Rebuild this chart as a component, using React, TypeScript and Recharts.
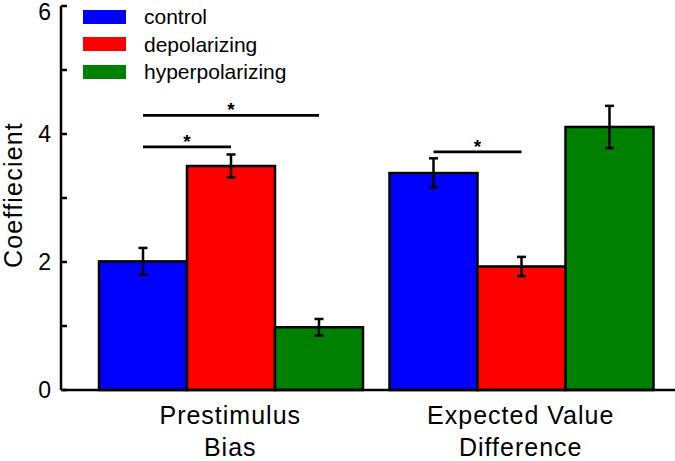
import React from 'react';
import { BarChart, Bar, XAxis, YAxis, ErrorBar, Legend } from 'recharts';

// values
const categories = ['Prestimulus\nBias', 'Expected Value\nDifference'];
const controlValues = [2.01, 3.39];
const controlErrors = [0.21, 0.23];
const depolarizingValues = [3.5, 1.93];
const depolarizingErrors = [0.18, 0.15];
const hyperpolarizingValues = [0.98, 4.11];
const hyperpolarizingErrors = [0.13, 0.33];

const yTicks = [0, 1, 2, 3, 4, 5, 6];
const yTickLabels = [0, 2, 4, 6];

// significance brackets (category, first bar, last bar, height)
const sigCategory = [0, 0, 1];
const sigFrom = [0, 0, 0];
const sigTo = [1, 2, 1];
const sigHeight = [3.8, 4.29, 3.72];

const FONT = '"Liberation Sans", Arial, Helvetica, sans-serif';

const series = [
  { key: 'control', name: 'control', color: '#0000ff' },
  { key: 'depolarizing', name: 'depolarizing', color: '#ff0000' },
  { key: 'hyperpolarizing', name: 'hyperpolarizing', color: '#008000' },
];

const chartData = categories.map((category, i) => ({
  category,
  control: controlValues[i],
  controlErr: controlErrors[i],
  depolarizing: depolarizingValues[i],
  depolarizingErr: depolarizingErrors[i],
  hyperpolarizing: hyperpolarizingValues[i],
  hyperpolarizingErr: hyperpolarizingErrors[i],
}));

function plainBar(color: string) {
  return (props: any) => {
    const { x, y, width, height } = props;
    return <rect x={x} y={y} width={width} height={height} fill={color} stroke="#000" strokeWidth={2.5} />;
  };
}

// control bar also carries the significance brackets of its category
function ControlShape(props: any) {
  const { x, y, width, height, index } = props;
  const unit = height / controlValues[index];
  const base = y + height;
  return (
    <g>
      <rect x={x} y={y} width={width} height={height} fill="#0000ff" stroke="#000" strokeWidth={2.5} />
      {sigCategory.map((c, k) => {
        if (c !== index) return null;
        const x1 = x + width * (sigFrom[k] + 0.5);
        const x2 = x + width * (sigTo[k] + 0.5);
        const ly = base - sigHeight[k] * unit;
        return (
          <g key={k}>
            <line x1={x1} x2={x2} y1={ly} y2={ly} stroke="#000" strokeWidth={2.8} />
            <text
              x={(x1 + x2) / 2}
              y={ly + 1}
              textAnchor="middle"
              fontSize={19}
              fontWeight="bold"
              fontFamily={FONT}
              fill="#000"
            >
              *
            </text>
          </g>
        );
      })}
    </g>
  );
}

function YTick({ x, y, payload }: any) {
  return (
    <g>
      <line x1={x} x2={x + 6} y1={y} y2={y} stroke="#000" strokeWidth={2.5} />
      {yTickLabels.includes(payload.value) && (
        <text
          x={x - 10}
          y={Math.max(y, 12)}
          dy="0.36em"
          textAnchor="end"
          fontSize={23}
          fontFamily={FONT}
          fill="#000"
        >
          {payload.value}
        </text>
      )}
    </g>
  );
}

function XTick({ x, y, payload }: any) {
  const lines = String(payload.value).split('\n');
  return (
    <text x={x} y={y} textAnchor="middle" fontSize={25} letterSpacing={1} fontFamily={FONT} fill="#000">
      {lines.map((l, i) => (
        <tspan key={i} x={x} dy={i === 0 ? 34 : 32}>
          {l}
        </tspan>
      ))}
    </text>
  );
}

function YLabel(props: any) {
  const vb = props.viewBox || { x: 0, y: 6, width: 61, height: 384 };
  const cx = vb.x + 22;
  const cy = vb.y + vb.height / 2 - 3;
  return (
    <text
      x={cx}
      y={cy}
      transform={`rotate(-90, ${cx}, ${cy})`}
      textAnchor="middle"
      fontSize={25}
      letterSpacing={1.2}
      fontFamily={FONT}
      fill="#000"
    >
      Coeffiecient
    </text>
  );
}

function LegendBox() {
  return (
    <div style={{ fontFamily: FONT }}>
      {series.map((s) => (
        <div key={s.key} style={{ display: 'flex', alignItems: 'center', height: 27.5 }}>
          <div style={{ width: 43, height: 14, background: s.color }} />
          <span style={{ marginLeft: 18, fontSize: 21, color: '#000', lineHeight: '21px' }}>{s.name}</span>
        </div>
      ))}
    </div>
  );
}

export default function App() {
  return (
    <div style={{ position: 'absolute', left: 0, top: 0, background: '#fff', fontFamily: FONT }}>
      <BarChart
        width={675}
        height={461}
        data={chartData}
        margin={{ top: 6, right: 0, bottom: 0, left: 0 }}
        barCategoryGap={14}
        barGap={0}
      >
        <XAxis
          dataKey="category"
          height={71}
          padding={{ left: 24, right: 9 }}
          axisLine={{ stroke: '#000', strokeWidth: 2.5 }}
          tickLine={false}
          tickSize={0}
          tickMargin={0}
          tick={<XTick />}
          interval={0}
        />
        <YAxis
          width={61}
          domain={[0, 6]}
          ticks={yTicks}
          interval={0}
          axisLine={{ stroke: '#000', strokeWidth: 2.5 }}
          tickLine={false}
          tickSize={0}
          tickMargin={0}
          tick={<YTick />}
          label={<YLabel />}
        />
        <Legend
          layout="vertical"
          align="center"
          verticalAlign="middle"
          wrapperStyle={{ top: 3, left: 83, width: 'auto' }}
          content={() => <LegendBox />}
        />
        <Bar dataKey="control" name="control" fill="#0000ff" shape={ControlShape} isAnimationActive={false}>
          <ErrorBar dataKey="controlErr" width={4.5} stroke="#000" strokeWidth={2.5} direction="y" />
        </Bar>
        <Bar dataKey="depolarizing" name="depolarizing" fill="#ff0000" shape={plainBar('#ff0000')} isAnimationActive={false}>
          <ErrorBar dataKey="depolarizingErr" width={4.5} stroke="#000" strokeWidth={2.5} direction="y" />
        </Bar>
        <Bar
          dataKey="hyperpolarizing"
          name="hyperpolarizing"
          fill="#008000"
          shape={plainBar('#008000')}
          isAnimationActive={false}
        >
          <ErrorBar dataKey="hyperpolarizingErr" width={4.5} stroke="#000" strokeWidth={2.5} direction="y" />
        </Bar>
      </BarChart>
    </div>
  );
}
